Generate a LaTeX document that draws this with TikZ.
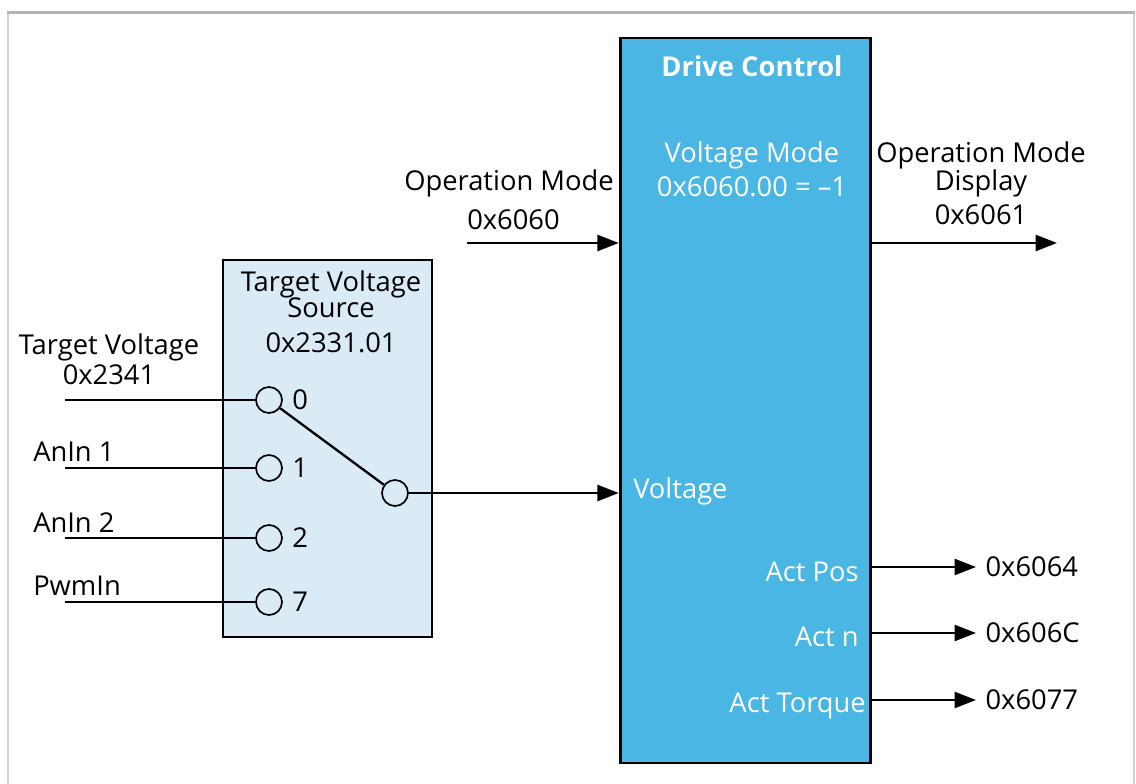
\documentclass[tikz,border=0pt]{standalone}
\usepackage{fontspec}
\setmainfont{Open Sans}
\usepackage{xcolor}
\usetikzlibrary{arrows.meta,positioning}
\definecolor{drvblue}{HTML}{4AB6E3}
\definecolor{srcblue}{HTML}{DAEBF6}
\definecolor{frametop}{HTML}{B4B4B4}
\definecolor{frameside}{HTML}{D2D2D2}
\tikzset{
  lbl/.style={font=\fontsize{20.5}{24}\selectfont,inner sep=0pt,anchor=base},
  wlbl/.style={lbl,text=white},
  blk/.style={draw=black,line width=2.1pt,inner sep=0pt},
  pin/.style={circle,draw=black,line width=1.3pt,fill=srcblue,minimum size=19.5pt,inner sep=0pt},
  wire/.style={draw=black,line width=1.75pt},
  ar/.style={wire,-{Triangle[length=16pt,width=12pt]}},
}
\begin{document}
\begin{tikzpicture}[x=0.75pt,y=-0.75pt]
  \useasboundingbox (0,0) rectangle (1136,784);
  % frame
  \draw[frameside,line width=1.6pt] (8,784) -- (8,12.5);
  \draw[frameside,line width=1.6pt] (1134,12.5) -- (1134,784);
  \draw[frametop,line width=2pt] (7,12.5) -- (1135,12.5);
  % blocks
  \node[blk,fill=drvblue,minimum width=188pt,minimum height=543.75pt] (drv) at (745.5,400.5) {};
  \node[blk,fill=srcblue,minimum width=156.75pt,minimum height=282.75pt] (src) at (327.5,448.5) {};
  % drive control texts
  \node[wlbl,font=\fontsize{20.5}{24}\selectfont\bfseries] (drvtitle) at (752,77) {Drive Control};
  \node[wlbl] (vmode) at (752,163) {Voltage Mode};
  \node[wlbl] (vmodeval) at (752,197) {0x6060.00 = –1};
  \node[wlbl,anchor=base west] (vin) at (633,498) {Voltage};
  \node[wlbl,anchor=base east] (actpos) at (859,581) {Act Pos};
  \node[wlbl,anchor=base east] (actn) at (859,646) {Act n};
  \node[wlbl,anchor=base east] (acttq) at (866,712) {Act Torque};
  % source texts
  \node[lbl] (srctitle) at (331,292) {Target Voltage};
  \node[lbl] (srcsub) at (331,318) {Source};
  \node[lbl] (srcaddr) at (331,353) {0x2331.01};
  % switch pins
  \foreach \k/\y/\t in {0/400/0,1/468/1,2/538/2,3/602/7}{
    \node[pin] (p\k) at (269,\y) {};
    \node[lbl,anchor=west] (n\k) at ([xshift=7pt]p\k.east) {\t};
    \coordinate (in\k) at (65,\y);
    \draw[wire] (in\k) -- (p\k);
  }
  \node[pin] (sw) at (395,493) {};
  \draw[wire] (p0) -- (sw);
  % input labels
  \node[lbl] (tvlbl) at (109,355) {Target Voltage};
  \node[lbl] (tvaddr) at (109,385) {0x2341};
  \node[lbl,anchor=base west] (an1) at (33,461) {AnIn 1};
  \node[lbl,anchor=base west] (an2) at (33,532) {AnIn 2};
  \node[lbl,anchor=base west] (pwm) at (33,595) {PwmIn};
  % operation mode in
  \node[lbl] (oplbl) at (509,191) {Operation Mode};
  \node[lbl,anchor=base west] (opaddr) at (467,230) {0x6060};
  \coordinate (opin) at (467,243);
  \draw[ar] (opin) -- (opin -| drv.west);
  \draw[ar] (sw) -- (sw -| drv.west);
  % operation mode display out
  \node[lbl] (odlbl) at (981,163) {Operation Mode};
  \node[lbl] (odsub) at (981,191) {Display};
  \node[lbl] (odaddr) at (981,225) {0x6061};
  \coordinate (odout) at (1057,243);
  \draw[ar] (odout -| drv.east) -- (odout);
  % actual value outputs
  \foreach \y/\a/\t in {567/pos/0x6064,633/n/0x606C,700/tq/0x6077}{
    \coordinate (out\a) at (976,\y);
    \draw[ar] (out\a -| drv.east) -- (out\a);
    \node[lbl,anchor=west] (addr\a) at ([xshift=7pt]out\a) {\t};
  }
\end{tikzpicture}
\end{document}
